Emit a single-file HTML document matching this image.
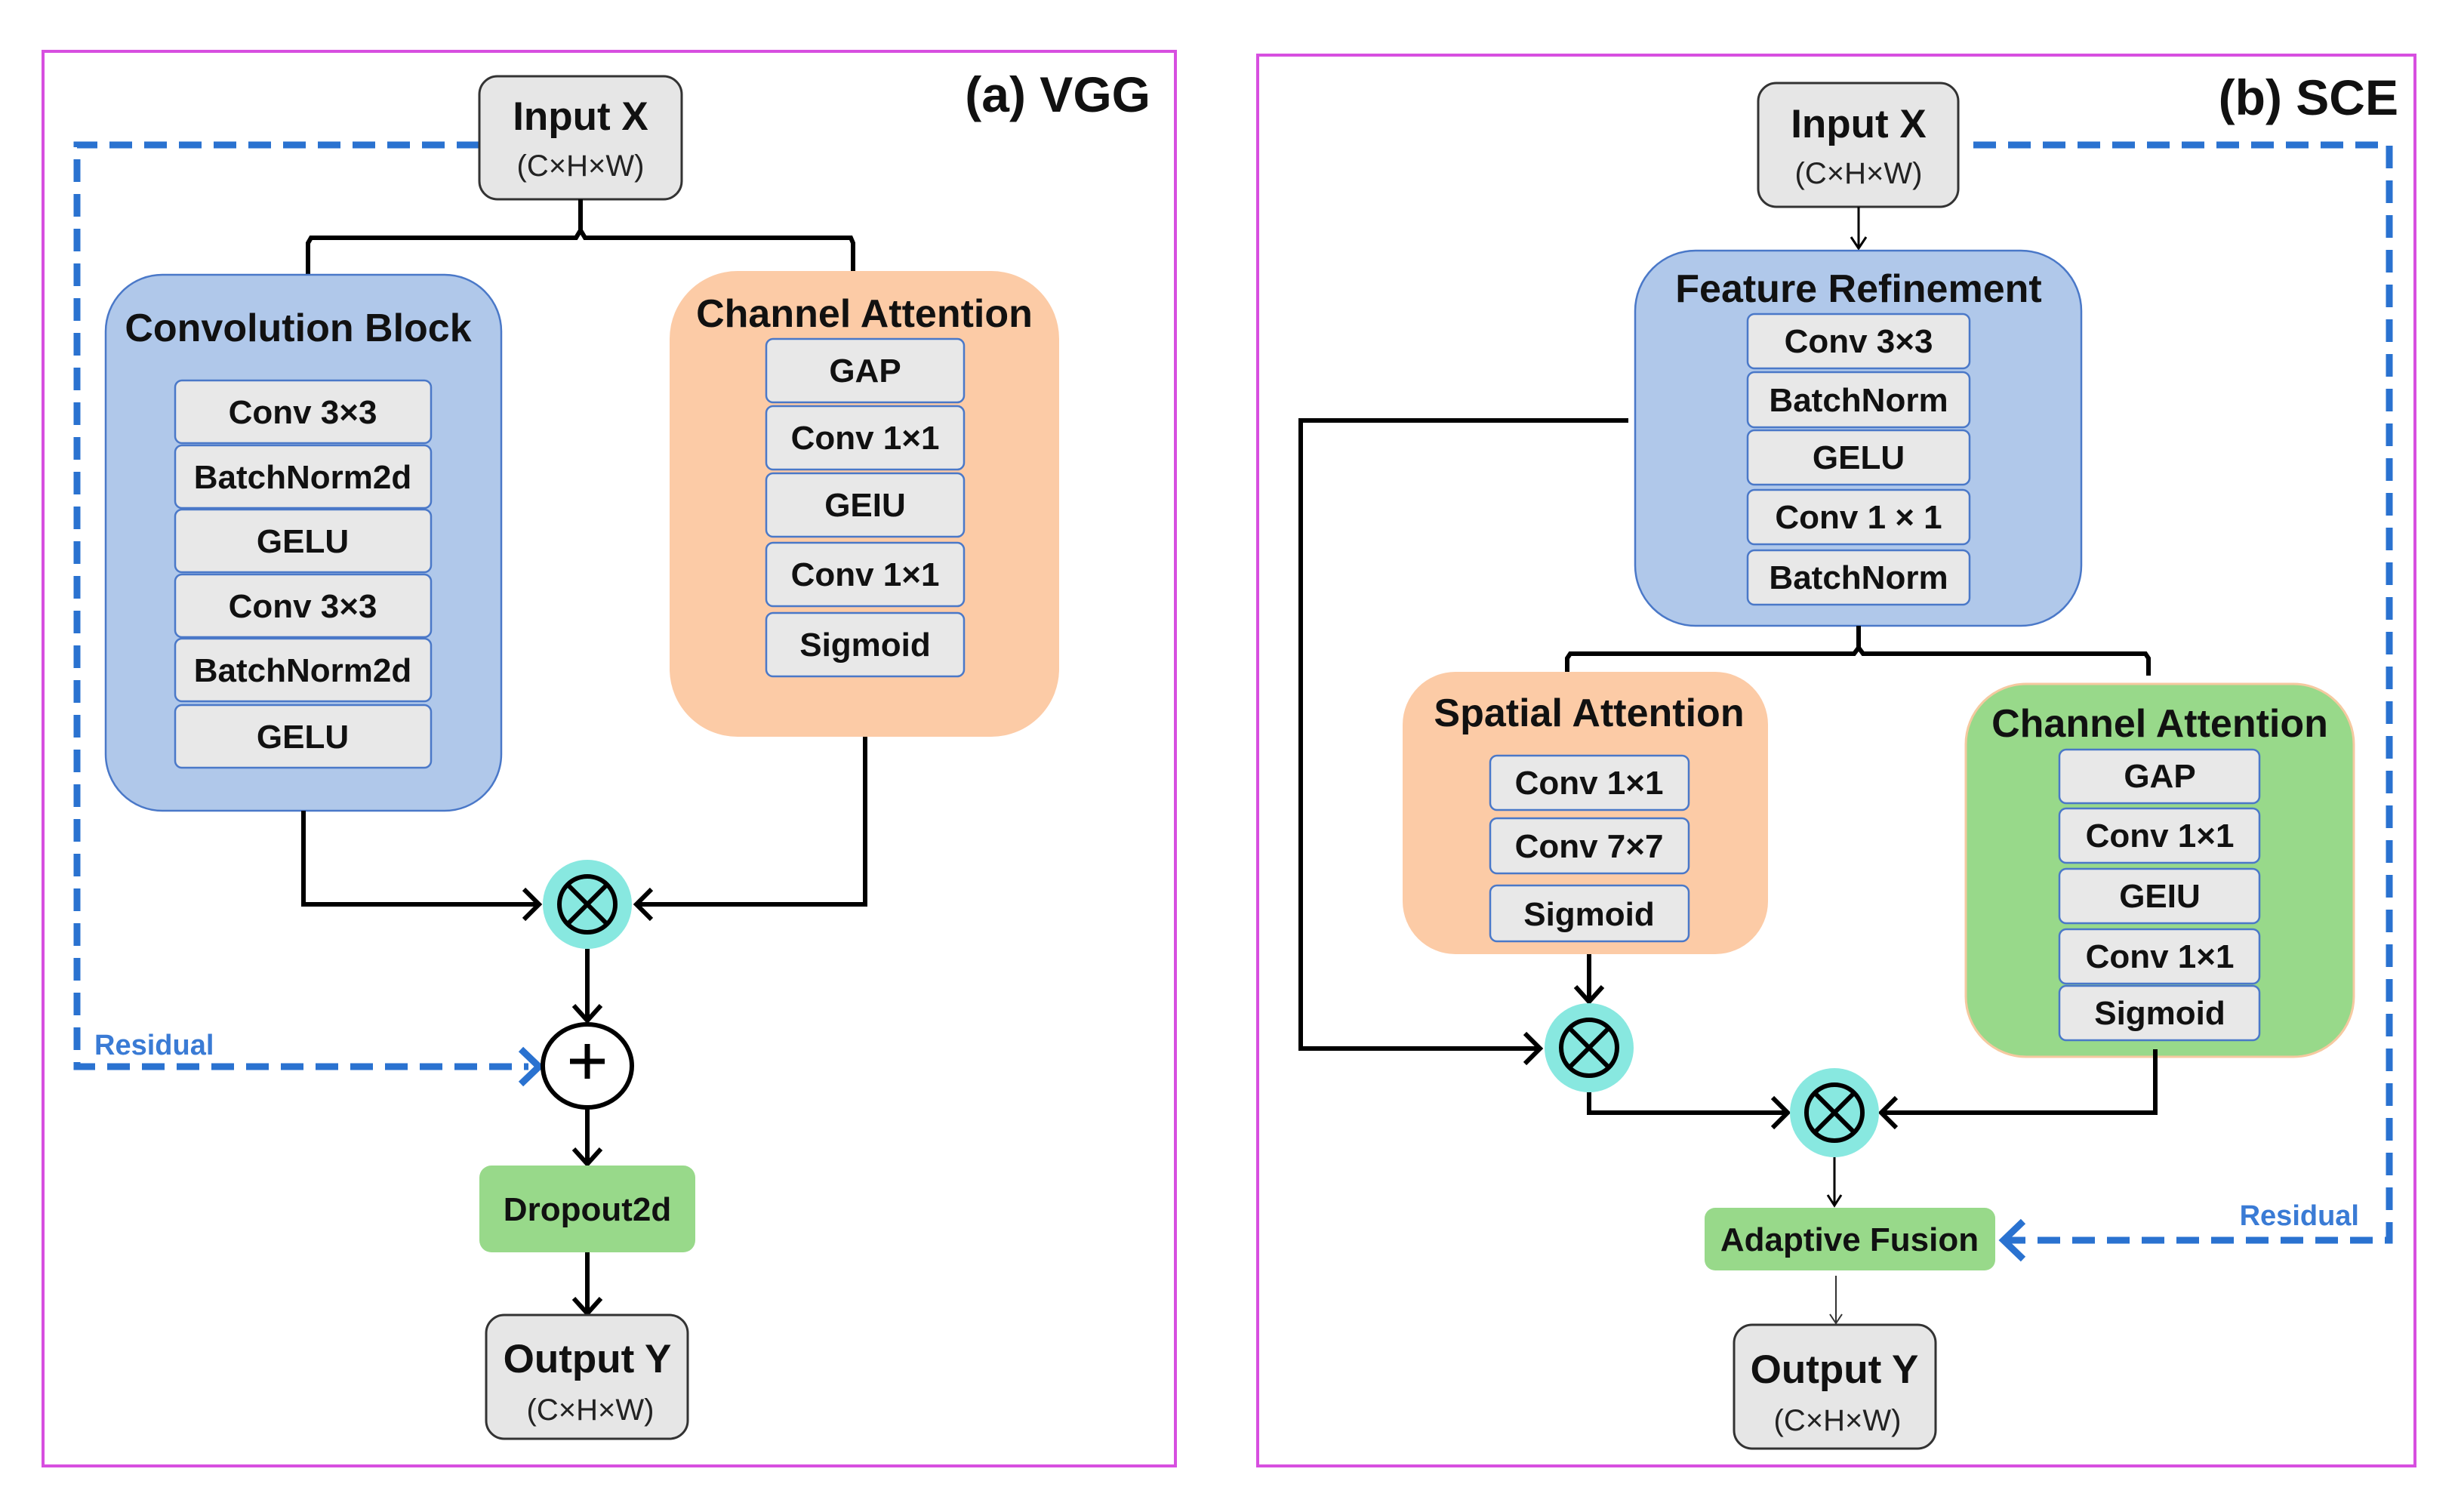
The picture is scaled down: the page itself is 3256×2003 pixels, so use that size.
<!DOCTYPE html>
<html><head><meta charset="utf-8"><style>
html,body{margin:0;padding:0;background:#fff;}
svg{display:block;}
text{font-family:"Liberation Sans",Arial,sans-serif;}
.t{font-weight:bold;text-anchor:middle;fill:#111;}
.it{fill:#e8e8e8;stroke:#4a78c8;stroke-width:2.5;}
.ln{fill:none;stroke:#000;stroke-width:6;}
.th{fill:none;stroke:#000;stroke-width:3;}
.ds{fill:none;stroke:#2a72d0;stroke-width:9;stroke-dasharray:30 16;}
</style></head><body>
<svg width="3256" height="2003" viewBox="0 0 3256 2003" xmlns="http://www.w3.org/2000/svg">
<rect x="0" y="0" width="3256" height="2003" fill="#fff"/>
<!-- panels -->
<rect x="57" y="68" width="1500" height="1874" fill="none" stroke="#d74fe0" stroke-width="4"/>
<rect x="1666" y="73" width="1533" height="1869" fill="none" stroke="#d74fe0" stroke-width="4"/>

<!-- ===== LEFT (a) VGG ===== -->
<text x="1524" y="148" class="t" style="text-anchor:end;font-size:66px">(a) VGG</text>

<!-- dashed residual -->
<polyline class="ds" points="635,192 102,192 102,1413 700,1413"/>
<polyline points="690,1390 714,1413 690,1436" fill="none" stroke="#2a72d0" stroke-width="9"/>
<text x="125" y="1397" style="font-size:38px;font-weight:bold;fill:#3a7bd5">Residual</text>

<!-- input -->
<rect x="635" y="101" width="268" height="163" rx="24" fill="#e6e6e6" stroke="#333" stroke-width="3"/>
<text x="769" y="172" class="t" style="font-size:53px">Input X</text>
<text x="769" y="233" style="font-size:40px;text-anchor:middle;fill:#222">(C×H×W)</text>

<!-- branch -->
<polyline class="ln" points="769,264 769,305 775,315 1127,315 1130,322 1130,362"/>
<polyline class="ln" points="769,305 763,315 412,315 408,322 408,364"/>

<!-- conv block -->
<rect x="140" y="364" width="524" height="710" rx="75" fill="#b0c8ea" stroke="#4a78c8" stroke-width="2.5"/>
<text x="395" y="452" class="t" style="font-size:52px">Convolution Block</text>
<rect class="it" x="232" y="504" width="339" height="83" rx="9"/>
<rect class="it" x="232" y="590" width="339" height="83" rx="9"/>
<rect class="it" x="232" y="675" width="339" height="83" rx="9"/>
<rect class="it" x="232" y="761" width="339" height="83" rx="9"/>
<rect class="it" x="232" y="846" width="339" height="83" rx="9"/>
<rect class="it" x="232" y="934" width="339" height="83" rx="9"/>
<text x="401" y="561" class="t" style="font-size:44px">Conv 3×3</text>
<text x="401" y="647" class="t" style="font-size:44px">BatchNorm2d</text>
<text x="401" y="732" class="t" style="font-size:44px">GELU</text>
<text x="401" y="818" class="t" style="font-size:44px">Conv 3×3</text>
<text x="401" y="903" class="t" style="font-size:44px">BatchNorm2d</text>
<text x="401" y="991" class="t" style="font-size:44px">GELU</text>

<!-- channel attention (left) -->
<rect x="887" y="359" width="516" height="617" rx="90" fill="#fccba6"/>
<text x="1145" y="433" class="t" style="font-size:52px">Channel Attention</text>
<rect class="it" x="1015" y="449" width="262" height="84" rx="9"/>
<rect class="it" x="1015" y="538" width="262" height="84" rx="9"/>
<rect class="it" x="1015" y="627" width="262" height="84" rx="9"/>
<rect class="it" x="1015" y="719" width="262" height="84" rx="9"/>
<rect class="it" x="1015" y="812" width="262" height="84" rx="9"/>
<text x="1146" y="506" class="t" style="font-size:44px">GAP</text>
<text x="1146" y="595" class="t" style="font-size:44px">Conv 1×1</text>
<text x="1146" y="684" class="t" style="font-size:44px">GEIU</text>
<text x="1146" y="776" class="t" style="font-size:44px">Conv 1×1</text>
<text x="1146" y="869" class="t" style="font-size:44px">Sigmoid</text>

<!-- connectors into multiply -->
<polyline class="ln" points="402,1074 402,1198 714,1198"/>
<polyline class="ln" points="694,1178 714,1198 694,1218"/>
<polyline class="ln" points="1146,976 1146,1198 843,1198"/>
<polyline class="ln" points="863,1178 843,1198 863,1218"/>

<!-- multiply circle -->
<circle cx="778" cy="1198" r="59" fill="#88e8e0"/>
<circle cx="778" cy="1198" r="37" fill="none" stroke="#000" stroke-width="6"/>
<line x1="752" y1="1172" x2="804" y2="1224" stroke="#000" stroke-width="6"/>
<line x1="804" y1="1172" x2="752" y2="1224" stroke="#000" stroke-width="6"/>

<polyline class="ln" points="778,1257 778,1352"/>
<polyline class="ln" points="760,1332 778,1352 796,1332"/>

<!-- plus circle -->
<ellipse cx="778" cy="1412" rx="59" ry="55" fill="#fff" stroke="#000" stroke-width="6"/>
<line x1="755" y1="1406" x2="801" y2="1406" stroke="#000" stroke-width="7"/>
<line x1="778" y1="1383" x2="778" y2="1429" stroke="#000" stroke-width="7"/>

<polyline class="ln" points="778,1467 778,1542"/>
<polyline class="ln" points="760,1522 778,1542 796,1522"/>

<rect x="635" y="1544" width="286" height="115" rx="16" fill="#98d98a"/>
<text x="778" y="1617" class="t" style="font-size:44px">Dropout2d</text>

<polyline class="ln" points="778,1659 778,1740"/>
<polyline class="ln" points="760,1720 778,1740 796,1720"/>

<rect x="644" y="1742" width="267" height="164" rx="24" fill="#e6e6e6" stroke="#333" stroke-width="3"/>
<text x="778" y="1818" class="t" style="font-size:53px">Output Y</text>
<text x="782" y="1881" style="font-size:40px;text-anchor:middle;fill:#222">(C×H×W)</text>

<!-- ===== RIGHT (b) SCE ===== -->
<text x="3177" y="152" class="t" style="text-anchor:end;font-size:66px">(b) SCE</text>

<polyline class="ds" points="2614,192 3165,192 3165,1643 2660,1643"/>
<polyline points="2680,1618 2654,1643 2680,1668" fill="none" stroke="#2a72d0" stroke-width="9"/>
<text x="3125" y="1623" style="font-size:38px;font-weight:bold;fill:#3a7bd5;text-anchor:end">Residual</text>

<rect x="2329" y="110" width="265" height="164" rx="24" fill="#e6e6e6" stroke="#333" stroke-width="3"/>
<text x="2462" y="182" class="t" style="font-size:53px">Input X</text>
<text x="2462" y="243" style="font-size:40px;text-anchor:middle;fill:#222">(C×H×W)</text>

<polyline class="th" points="2462,274 2462,329"/>
<polyline class="th" points="2452,314 2462,329 2472,314"/>

<!-- feature refinement -->
<rect x="2166" y="332" width="591" height="497" rx="80" fill="#b0c8ea" stroke="#4a78c8" stroke-width="2.5"/>
<text x="2462" y="400" class="t" style="font-size:52px">Feature Refinement</text>
<rect class="it" x="2315" y="416" width="294" height="72" rx="9"/>
<rect class="it" x="2315" y="493" width="294" height="73" rx="9"/>
<rect class="it" x="2315" y="570" width="294" height="72" rx="9"/>
<rect class="it" x="2315" y="649" width="294" height="72" rx="9"/>
<rect class="it" x="2315" y="729" width="294" height="72" rx="9"/>
<text x="2462" y="467" class="t" style="font-size:44px">Conv 3×3</text>
<text x="2462" y="545" class="t" style="font-size:44px">BatchNorm</text>
<text x="2462" y="621" class="t" style="font-size:44px">GELU</text>
<text x="2462" y="700" class="t" style="font-size:44px">Conv  1 × 1</text>
<text x="2462" y="780" class="t" style="font-size:44px">BatchNorm</text>

<!-- left bypass -->
<polyline class="ln" points="2157,557 1723,557 1723,1389 2040,1389"/>
<polyline class="ln" points="2020,1369 2040,1389 2020,1409"/>

<!-- branch -->
<polyline class="ln" points="2462,829 2462,858 2468,866 2842,866 2846,872 2846,895"/>
<polyline class="ln" points="2462,858 2456,866 2080,866 2076,872 2076,892"/>

<!-- spatial attention -->
<rect x="1858" y="890" width="484" height="374" rx="70" fill="#fccba6"/>
<text x="2105" y="962" class="t" style="font-size:52px">Spatial Attention</text>
<rect class="it" x="1974" y="1001" width="263" height="72" rx="9"/>
<rect class="it" x="1974" y="1084" width="263" height="73" rx="9"/>
<rect class="it" x="1974" y="1173" width="263" height="74" rx="9"/>
<text x="2105" y="1052" class="t" style="font-size:44px">Conv 1×1</text>
<text x="2105" y="1136" class="t" style="font-size:44px">Conv 7×7</text>
<text x="2105" y="1226" class="t" style="font-size:44px">Sigmoid</text>

<!-- channel attention green -->
<rect x="2604" y="906" width="514" height="494" rx="80" fill="#98d98a" stroke="#f5c9a0" stroke-width="3"/>
<text x="2861" y="976" class="t" style="font-size:52px">Channel Attention</text>
<rect class="it" x="2728" y="993" width="265" height="71" rx="9"/>
<rect class="it" x="2728" y="1071" width="265" height="72" rx="9"/>
<rect class="it" x="2728" y="1151" width="265" height="72" rx="9"/>
<rect class="it" x="2728" y="1231" width="265" height="72" rx="9"/>
<rect class="it" x="2728" y="1306" width="265" height="72" rx="9"/>
<text x="2861" y="1043" class="t" style="font-size:44px">GAP</text>
<text x="2861" y="1122" class="t" style="font-size:44px">Conv 1×1</text>
<text x="2861" y="1202" class="t" style="font-size:44px">GEIU</text>
<text x="2861" y="1282" class="t" style="font-size:44px">Conv 1×1</text>
<text x="2861" y="1357" class="t" style="font-size:44px">Sigmoid</text>

<!-- SA down to circle1 -->
<polyline class="ln" points="2105,1264 2105,1327"/>
<polyline class="ln" points="2087,1307 2105,1327 2123,1307"/>

<!-- circle1 -->
<circle cx="2105" cy="1388" r="59" fill="#88e8e0"/>
<circle cx="2105" cy="1388" r="37" fill="none" stroke="#000" stroke-width="6"/>
<line x1="2079" y1="1362" x2="2131" y2="1414" stroke="#000" stroke-width="6"/>
<line x1="2131" y1="1362" x2="2079" y2="1414" stroke="#000" stroke-width="6"/>

<polyline class="ln" points="2105,1447 2105,1474 2368,1474"/>
<polyline class="ln" points="2348,1454 2368,1474 2348,1494"/>
<polyline class="ln" points="2855,1390 2855,1474 2492,1474"/>
<polyline class="ln" points="2512,1454 2492,1474 2512,1494"/>

<!-- circle2 -->
<circle cx="2430" cy="1474" r="59" fill="#88e8e0"/>
<circle cx="2430" cy="1474" r="37" fill="none" stroke="#000" stroke-width="6"/>
<line x1="2404" y1="1448" x2="2456" y2="1500" stroke="#000" stroke-width="6"/>
<line x1="2456" y1="1448" x2="2404" y2="1500" stroke="#000" stroke-width="6"/>

<polyline class="th" points="2430,1533 2430,1597"/>
<polyline class="th" points="2421,1583 2430,1597 2439,1583"/>

<rect x="2258" y="1600" width="385" height="83" rx="14" fill="#98d98a"/>
<text x="2450" y="1657" class="t" style="font-size:44px">Adaptive Fusion</text>

<polyline points="2432,1690 2432,1753" fill="none" stroke="#333" stroke-width="2"/>
<polyline points="2424,1741 2432,1753 2440,1741" fill="none" stroke="#333" stroke-width="2"/>

<rect x="2297" y="1755" width="267" height="164" rx="24" fill="#e6e6e6" stroke="#333" stroke-width="3"/>
<text x="2430" y="1832" class="t" style="font-size:53px">Output Y</text>
<text x="2434" y="1895" style="font-size:40px;text-anchor:middle;fill:#222">(C×H×W)</text>
</svg>
</body></html>
